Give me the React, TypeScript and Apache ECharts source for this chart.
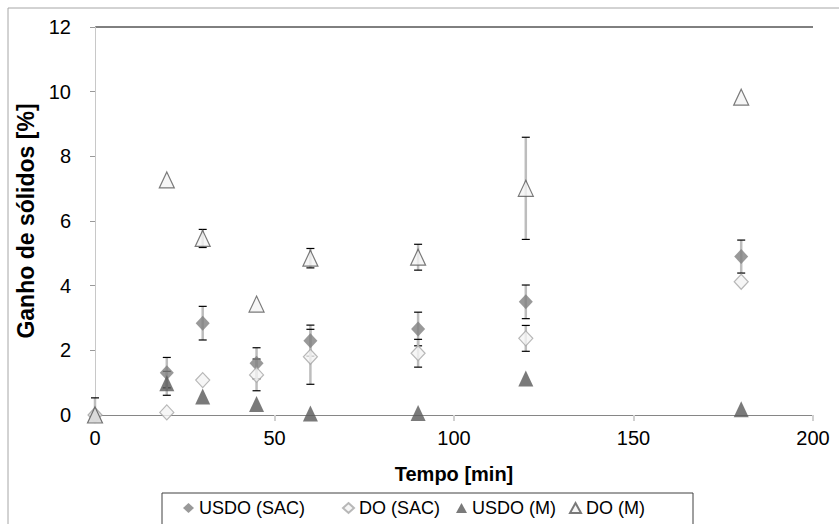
import React, { useEffect, useRef } from "react";
import * as echarts from "echarts";

const times = [0, 20, 30, 45, 60, 90, 120, 180];
const usdoSac = [0, 1.31, 2.84, 1.6, 2.3, 2.66, 3.5, 4.9];
const usdoSacErr = [0.53, 0.47, 0.52, 0.48, 0.48, 0.52, 0.52, 0.51];
const doSac = [0, 0.08, 1.08, 1.24, 1.8, 1.91, 2.37, 4.12];
const doSacErr = [0, 0, 0, 0.49, 0.85, 0.43, 0.4, 0];
const usdoM = [0, 0.98, 0.57, 0.34, 0.05, 0.06, 1.13, 0.18];
const usdoMErr = [0, 0.37, 0, 0, 0, 0, 0, 0];
const doM = [0, 7.27, 5.46, 3.43, 4.85, 4.88, 7.01, 9.83];
const doMErr = [0, 0, 0.28, 0, 0.3, 0.4, 1.58, 0];

const seriesNames = ["USDO (SAC)", "DO (SAC)", "USDO (M)", "DO (M)"];
const xTitle = "Tempo [min]";
const yTitle = "Ganho de sólidos [%]";

const FONT = "'Liberation Sans', Arial, sans-serif";

function errorSeries(id: string, values: number[], errs: number[]) {
  return {
    type: "custom",
    id,
    silent: true,
    z: 1,
    renderItem: (params: any, api: any) => {
      const x = api.value(0);
      const y = api.value(1);
      const e = api.value(2);
      if (!e) return null;
      const hi = y + e;
      const loRaw = y - e;
      const lo = Math.max(0, loRaw);
      const top = api.coord([x, hi]);
      const bot = api.coord([x, lo]);
      const cap = 4;
      const children: any[] = [
        {
          type: "line",
          shape: { x1: top[0], y1: top[1], x2: bot[0], y2: bot[1] },
          style: { stroke: "#bdbdbd", lineWidth: 2.5 },
        },
        {
          type: "line",
          shape: { x1: top[0] - cap, y1: top[1], x2: top[0] + cap, y2: top[1] },
          style: { stroke: "#000", lineWidth: 1.2 },
        },
      ];
      if (loRaw >= 0) {
        children.push({
          type: "line",
          shape: { x1: bot[0] - cap, y1: bot[1], x2: bot[0] + cap, y2: bot[1] },
          style: { stroke: "#000", lineWidth: 1.2 },
        });
      }
      return { type: "group", children };
    },
    data: times.map((t, i) => [t, values[i], errs[i]]),
  };
}

function scatter(name: string, values: number[], symbol: string, size: number[], itemStyle: any) {
  return {
    type: "scatter",
    name,
    symbol,
    symbolSize: size,
    itemStyle,
    z: 3,
    data: times.map((t, i) => [t, values[i]]),
  };
}

const legendLefts = [183, 342, 456, 569];

export default function App() {
  const ref = useRef<HTMLDivElement>(null);
  useEffect(() => {
    if (!ref.current) return;
    const chart = echarts.init(ref.current, null, { renderer: "svg" });
    const option: any = {
      animation: false,
      backgroundColor: "#fff",
      textStyle: { fontFamily: FONT },
      grid: { left: 95, right: 26, top: 27, bottom: 109, containLabel: false },
      xAxis: {
        type: "value",
        min: 0,
        max: 200,
        interval: 50,
        name: xTitle,
        nameLocation: "middle",
        nameGap: 49,
        nameTextStyle: { fontSize: 20, fontWeight: "bold", color: "#000", fontFamily: FONT },
        axisLine: { show: true, lineStyle: { color: "#868686", width: 1 } },
        axisTick: { show: true, inside: false, length: 6, lineStyle: { color: "#d0d0d0", width: 2 } },
        axisLabel: { fontSize: 20, color: "#000", margin: 13, fontFamily: FONT },
        splitLine: { show: false },
      },
      yAxis: {
        type: "value",
        min: 0,
        max: 12,
        interval: 2,
        name: yTitle,
        nameLocation: "middle",
        nameGap: 42,
        nameRotate: 90,
        nameTextStyle: { fontSize: 23, fontWeight: "bold", color: "#000", fontFamily: FONT },
        axisLine: { show: true, lineStyle: { color: "#c8c8c8", width: 1 } },
        axisTick: { show: true, inside: false, length: 5, lineStyle: { color: "#9a9a9a", width: 1 } },
        axisLabel: { fontSize: 20, color: "#000", margin: 24, fontFamily: FONT },
        splitLine: { show: false },
      },
      legend: seriesNames.map((n, i) => ({
        data: [n],
        left: legendLefts[i],
        top: 499,
        itemWidth: 11,
        itemHeight: 10,
        itemGap: 0,
        padding: 0,
        textStyle: { fontSize: 18, color: "#000", fontFamily: FONT },
        selectedMode: false,
      })),
      graphic: [
        {
          type: "rect",
          shape: { x: 8, y: 8, width: 900, height: 600 },
          style: { fill: "none", stroke: "#a6a6a6", lineWidth: 1 },
          silent: true,
          z: -1,
        },
        {
          type: "line",
          shape: { x1: 95, y1: 27, x2: 813, y2: 27 },
          style: { stroke: "#000", lineWidth: 1 },
          silent: true,
        },
        {
          type: "rect",
          shape: { x: 162, y: 493, width: 531, height: 60 },
          style: { fill: "none", stroke: "#404040", lineWidth: 1 },
          silent: true,
        },
      ],
      series: [
        errorSeries("e1", usdoSac, usdoSacErr),
        errorSeries("e2", doSac, doSacErr),
        errorSeries("e3", usdoM, usdoMErr),
        errorSeries("e4", doM, doMErr),
        scatter(seriesNames[0], usdoSac, "diamond", [14, 15], { color: "#7f7f7f" }),
        scatter(seriesNames[1], doSac, "diamond", [14, 15], {
          color: "#f4f4f4",
          borderColor: "#a6a6a6",
          borderWidth: 1.2,
        }),
        scatter(seriesNames[2], usdoM, "triangle", [15, 16], { color: "#595959" }),
        scatter(seriesNames[3], doM, "triangle", [15, 16], {
          color: "#f4f4f4",
          borderColor: "#595959",
          borderWidth: 1.2,
        }),
      ],
    };
    chart.setOption(option);
    return () => chart.dispose();
  }, []);
  return <div ref={ref} style={{ width: 839, height: 524, position: "absolute", left: 0, top: 0 }} />;
}
